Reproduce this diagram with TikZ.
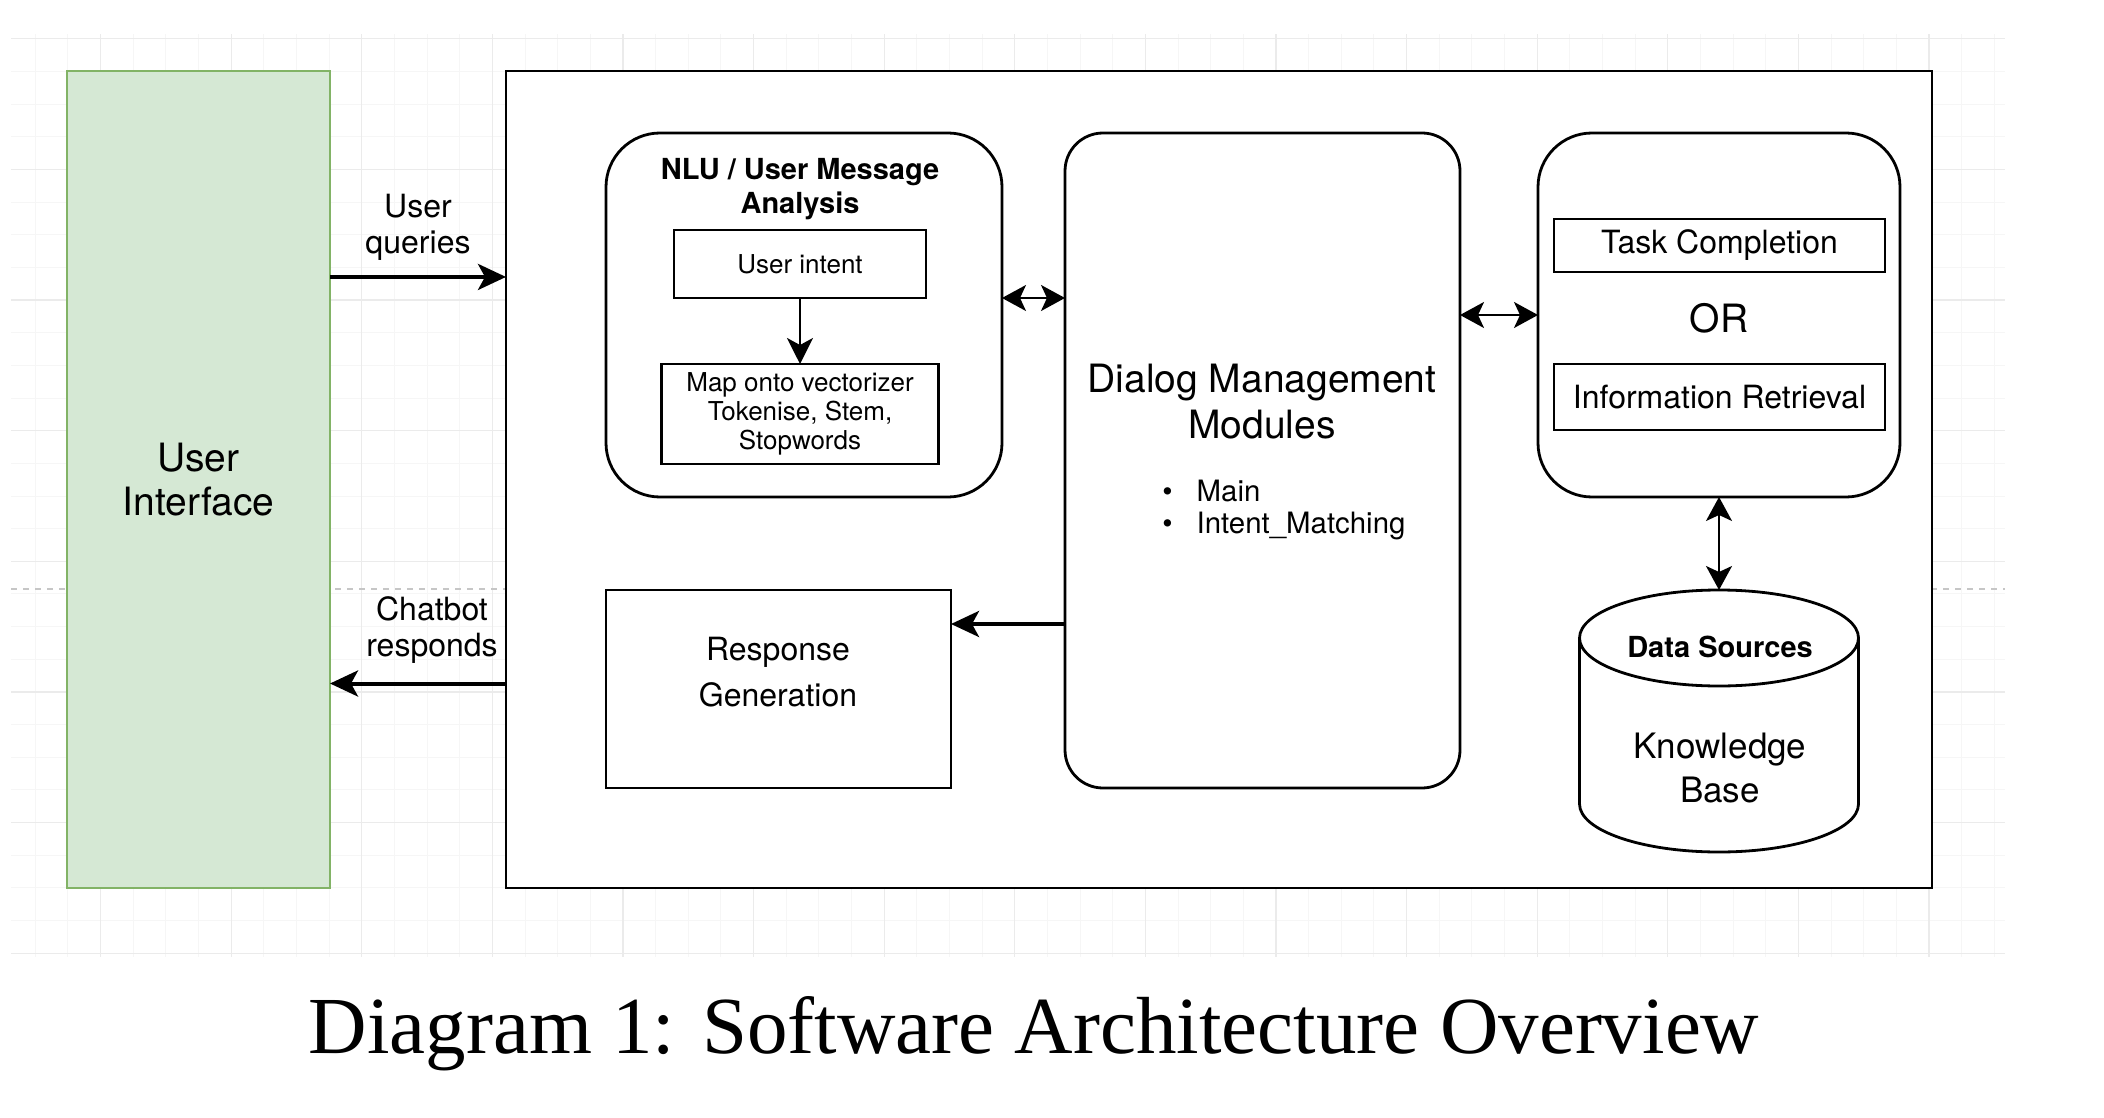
\documentclass[tikz,border=0pt]{standalone}
\usepackage{fontspec}
\setmainfont{TeX Gyre Heros}
\newfontfamily\capfont{Liberation Serif}
\usetikzlibrary{positioning, arrows.meta}
\definecolor{uifill}{HTML}{D5E8D4}
\definecolor{uiline}{HTML}{82B366}

\begin{document}
\begin{tikzpicture}[x=0.5pt, y=-0.5pt,
  box/.style = {draw, line width=1.4pt, fill=white, inner sep=0pt, outer sep=0pt, align=center},
  rbox/.style = {box, rounded corners=27pt},
  txt/.style = {align=center, inner sep=0pt},
  lbl/.style = {align=center, inner sep=0pt, font=\fontsize{16}{18}\selectfont},
  arr/.style = {-{Stealth[length=14pt, width=13pt, inset=3.5pt]}, line width=2pt},
  darr/.style = {{Stealth[length=12pt, width=13pt, inset=3pt]}-{Stealth[length=12pt, width=13pt, inset=3pt]}, line width=1pt}
]

\useasboundingbox (0,0) rectangle (2104,1118);

% grid background
\begin{scope}[shift={(100.6,38.9)}]
  \draw[gray!7, line width=0.5pt, step=16.325pt] (-89.6,918) grid (1904.4,-4.9);
  \draw[gray!16, line width=0.6pt, step=65.3pt] (-89.6,918) grid (1904.4,-4.9);
\end{scope}
\draw[gray!45, dashed, line width=0.6pt] (11,589) -- (2005,589);

% User Interface
\node[box, fill=uifill, draw=uiline, line width=1pt, minimum width=131.5pt, minimum height=408.5pt, font=\fontsize{19.5}{22}\selectfont] (ui) at (198.5,479.75) {User\\Interface};

% system frame
\node[box, minimum width=713pt, minimum height=408.5pt] (sys) at (1219,479.5) {};

% NLU
\node[rbox, minimum width=198pt, minimum height=182pt] (nlu) at (804,315) {};
\node[txt, font=\bfseries\fontsize{14.5}{17}\selectfont] (nlutitle) at (800,189) {NLU / User Message\\Analysis};
\node[box, minimum width=126pt, minimum height=34pt, font=\fontsize{13}{15}\selectfont] (intent) at (800,264) {User intent};
\node[box, minimum width=138.5pt, minimum height=50pt, below=33pt of intent, font=\fontsize{13}{14.5}\selectfont] (map) {Map onto vectorizer\\Tokenise, Stem,\\Stopwords};
\draw[-{Stealth[length=13pt, width=13pt, inset=3.5pt]}, line width=1pt] (intent) -- (map);

% Dialog
\node[rbox, rounded corners=19pt, minimum width=197.5pt, minimum height=327.5pt] (dlg) at (1262.5,460.5) {};
\node[txt, font=\fontsize{19.5}{23}\selectfont] (dlgtitle) at (1262,402) {Dialog Management\\Modules};
\node[txt, anchor=west, align=left, font=\fontsize{14.7}{15.6}\selectfont] (dlglist) at (1162,510) {\textbullet\hspace{12pt}Main\\\textbullet\hspace{12pt}Intent\_Matching};

% tasks
\node[rbox, minimum width=181pt, minimum height=182pt] (tasks) at (1719,315) {};
\node[box, minimum width=165.5pt, minimum height=26.5pt, font=\fontsize{16}{18}\selectfont] (task) at (1719.5,245.5) {Task Completion};
\node[txt, font=\fontsize{19.5}{22}\selectfont] (or) at (1719,318) {OR};
\node[box, minimum width=165.5pt, minimum height=33pt, below=46pt of task, font=\fontsize{16}{18}\selectfont] (info) {Information Retrieval};

% Data Sources
\node[minimum width=139.5pt, minimum height=131pt, inner sep=0pt, outer sep=0pt, below=46.5pt of tasks] (kb) {};
\draw[line width=1.4pt, fill=white] ([yshift=-24pt]kb.north west) -- ([yshift=24pt]kb.south west)
  arc[start angle=180, end angle=360, x radius=69.75pt, y radius=24pt] -- ([yshift=-24pt]kb.north east)
  arc[start angle=0, end angle=180, x radius=69.75pt, y radius=24pt] -- cycle;
\draw[line width=1.4pt] ([yshift=-24pt]kb.north west) arc[start angle=180, end angle=360, x radius=69.75pt, y radius=24pt];
\node[txt, font=\bfseries\fontsize{14.5}{17}\selectfont] (dstitle) at (1720,647) {Data Sources};
\node[txt, font=\fontsize{17.5}{22}\selectfont] (kbtxt) at (1720,768) {Knowledge\\Base};

% Response
\node[box, minimum width=172.5pt, minimum height=99pt] (resp) at (778.5,689) {};
\node[txt, font=\fontsize{16}{23}\selectfont] (resptxt) at (778,672) {Response\\Generation};

%--- ui -> sys ---
\coordinate (q) at ([yshift=101.4pt]ui.east);
\draw[arr] (q) -- node[lbl, above=7pt]{User\\queries} (q -| sys.west);

%--- sys -> ui ---
\coordinate (c) at ([yshift=-102pt]sys.west);
\draw[arr] (c) -- node[lbl, above=9pt, xshift=7pt]{Chatbot\\responds} (c -| ui.east);

%--- nlu <-> dlg <-> tasks <-> kb ---
\coordinate (na) at ([yshift=8.5pt]nlu.east);
\draw[darr] (na) -- (na -| dlg.west);
\draw[darr] (dlg.east |- tasks.west) -- (tasks.west);
\draw[darr] (tasks.south) -- (kb.north);

%--- dlg -> resp ---
\coordinate (dr) at ([yshift=32.5pt]resp.east);
\draw[arr] (dr -| dlg.west) -- (dr);

% caption
\node[anchor=base, inner sep=0pt, font=\capfont\fontsize{40.5}{48}\selectfont] (caption) at (1034,1053) {Diagram 1: Software Architecture Overview};

\end{tikzpicture}
\end{document}
